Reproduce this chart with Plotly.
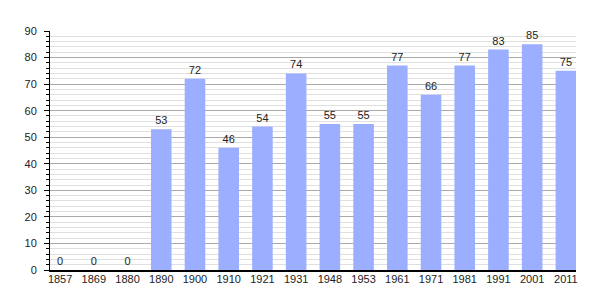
import plotly.graph_objects as go

years = ["1857", "1869", "1880", "1890", "1900", "1910", "1921", "1931", "1948",
         "1953", "1961", "1971", "1981", "1991", "2001", "2011"]
population = [0, 0, 0, 53, 72, 46, 54, 74, 55, 55, 77, 66, 77, 83, 85, 75]

FONT = "Liberation Sans, Arial, sans-serif"
label_font = dict(family=FONT, size=11, color="#222222")

fig = go.Figure()
fig.add_trace(go.Bar(
    x=years, y=population,
    marker=dict(color="#9caeff", line=dict(width=0)),
    width=0.61,
    text=[str(v) for v in population],
    textposition="outside",
    cliponaxis=False,
    outsidetextfont=label_font,
    insidetextfont=label_font,
    textfont=label_font,
))

fig.update_layout(
    width=605, height=300,
    margin=dict(l=50, r=29, t=31, b=30),
    paper_bgcolor="white", plot_bgcolor="white",
    showlegend=False,
    font=dict(family=FONT, size=11, color="#222222"),
    xaxis=dict(
        type="category", range=[-0.3, 15.3],
        showline=True, linecolor="black", linewidth=1.5,
        ticks="", showgrid=False, tickfont=dict(size=11),
        ticklabelstandoff=-2,
    ),
    yaxis=dict(
        range=[0, 90], dtick=10, showline=True, linecolor="black", linewidth=1,
        ticks="outside", ticklen=5, tickcolor="black",
        showgrid=True, gridcolor="#aaaaaa", gridwidth=1,
        zeroline=False,
        minor=dict(dtick=2, showgrid=True, gridcolor="#e0e0e0", gridwidth=1,
                   ticks="outside", ticklen=3, tickcolor="black"),
        tickfont=dict(size=11),
        ticklabelstandoff=5,
    ),
    bargap=0.39,
)

fig.write_html("out.html")
